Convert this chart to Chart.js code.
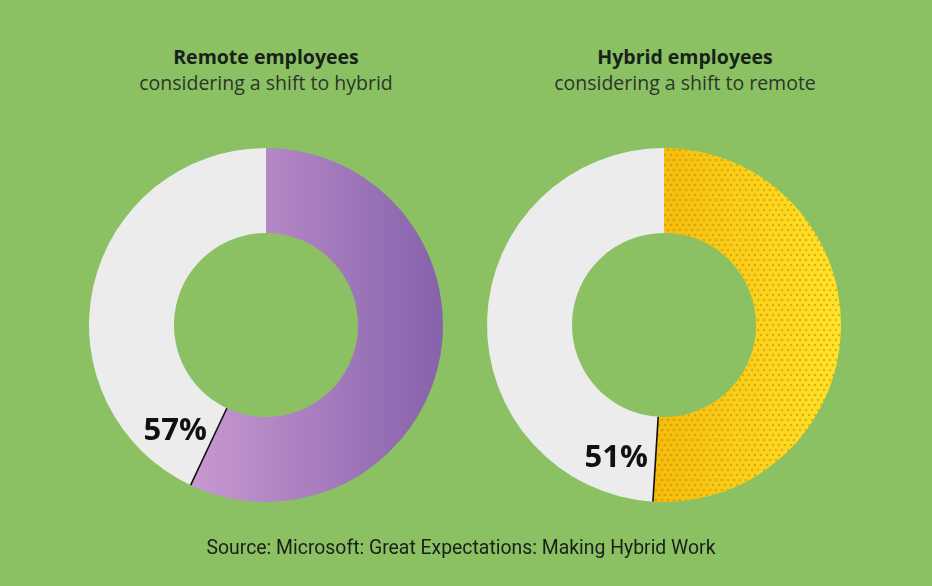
<!DOCTYPE html>
<html>
<head>
<meta charset="utf-8">
<script src="https://cdn.jsdelivr.net/npm/chart.js@4/dist/chart.umd.min.js"></script>
<style>
  html, body { margin: 0; padding: 0; }
  body { width: 932px; height: 586px; background: #8bc163; position: relative; overflow: hidden; }
  canvas { position: absolute; top: 0; }
  .head {
    position: absolute; width: 400px; text-align: center;
    font-family: "Open Sans", sans-serif; font-size: 19.5px; line-height: 26px;
  }
  .head b { display: block; color: #17221a; }
  .head span { display: block; color: #2b352c; }
  #source {
    position: absolute; left: -5px; width: 932px; top: 536px; text-align: center;
    font-family: Roboto, sans-serif; font-size: 19.4px; color: #1b1f1a;
  }
</style>
</head>
<body>
<div class="head" id="head0" style="left:66px; top:44px"></div>
<div class="head" id="head1" style="left:485px; top:44px"></div>
<canvas id="remote" width="400" height="540" style="left:66px"></canvas>
<canvas id="hybrid" width="400" height="540" style="left:464px"></canvas>
<div id="source">Source: Microsoft: Great Expectations: Making Hybrid Work</div>
<script>
  const segments = ['Considering a shift', 'Not considering'];
  const remoteValues = [57, 43];
  const hybridValues = [51, 49];
  const titles = ['Remote employees', 'Hybrid employees'];
  const subtitles = ['considering a shift to hybrid', 'considering a shift to remote'];
  const pctLabels = ['57%', '51%'];

  const GREY = '#ececec';

  titles.forEach((t, i) => {
    const el = document.getElementById('head' + i);
    const b = document.createElement('b');
    b.textContent = t;
    const s = document.createElement('span');
    s.textContent = subtitles[i];
    el.append(b, s);
  });

  // fill for the coloured slice, built once the chart area is known
  function makeFill(chart, stops, dots) {
    const area = chart.chartArea;
    const off = document.createElement('canvas');
    off.width = chart.width;
    off.height = chart.height;
    const c = off.getContext('2d');
    const cx = (area.left + area.right) / 2;
    const r = Math.min(area.width, area.height) / 2;
    const g = c.createLinearGradient(cx - r * 0.5, 0, cx + r, 0);
    g.addColorStop(0, stops[0]);
    g.addColorStop(1, stops[1]);
    c.fillStyle = g;
    c.fillRect(0, 0, off.width, off.height);
    if (dots) {
      c.fillStyle = dots;
      for (let y = 0, row = 0; y < off.height; y += 5, row++) {
        for (let x = (row % 2) * 3; x < off.width; x += 6) {
          c.beginPath();
          c.arc(x, y, 1.3, 0, Math.PI * 2);
          c.fill();
        }
      }
    }
    return chart.ctx.createPattern(off, 'no-repeat');
  }

  const dividerPlugin = {
    id: 'divider',
    afterDatasetsDraw(chart) {
      const arc = chart.getDatasetMeta(0).data[0];
      const { x, y, endAngle, innerRadius, outerRadius } = arc.getProps(['x', 'y', 'endAngle', 'innerRadius', 'outerRadius'], true);
      const ctx = chart.ctx;
      ctx.save();
      ctx.strokeStyle = '#111';
      ctx.lineWidth = 1.6;
      ctx.beginPath();
      ctx.moveTo(x + Math.cos(endAngle) * innerRadius, y + Math.sin(endAngle) * innerRadius);
      ctx.lineTo(x + Math.cos(endAngle) * outerRadius, y + Math.sin(endAngle) * outerRadius);
      ctx.stroke();
      // percentage label in the grey ring, just past the divider
      const a = endAngle + 0.3;
      const mid = (innerRadius + outerRadius) / 2;
      ctx.fillStyle = '#111';
      ctx.font = 'bold 31px "Open Sans", sans-serif';
      ctx.textAlign = 'center';
      ctx.textBaseline = 'middle';
      ctx.fillText(chart.options.plugins.divider.label, x + Math.cos(a) * mid, y + Math.sin(a) * mid + 7);
      ctx.restore();
    }
  };

  function donut(id, values, idx, stops, dots) {
    let fill = null;
    return new Chart(document.getElementById(id), {
      type: 'doughnut',
      data: {
        labels: segments,
        datasets: [{
          data: values,
          backgroundColor: (ctx) => {
            if (ctx.dataIndex === 1) return GREY;
            const chart = ctx.chart;
            if (!chart.chartArea) return stops[1];
            if (!fill) fill = makeFill(chart, stops, dots);
            return fill;
          },
          borderWidth: 0
        }]
      },
      options: {
        responsive: false,
        animation: false,
        cutout: '52%',
        layout: { padding: { top: 148, bottom: 38, left: 23, right: 23 } },
        plugins: {
          legend: { display: false },
          tooltip: { enabled: false },
          divider: { label: pctLabels[idx] }
        }
      },
      plugins: [dividerPlugin]
    });
  }

  donut('remote', remoteValues, 0, ['#cd9bd3', '#8562ab'], null);
  donut('hybrid', hybridValues, 1, ['#efac00', '#ffe52a'], 'rgba(205,115,0,0.45)');
</script>
</body>
</html>
